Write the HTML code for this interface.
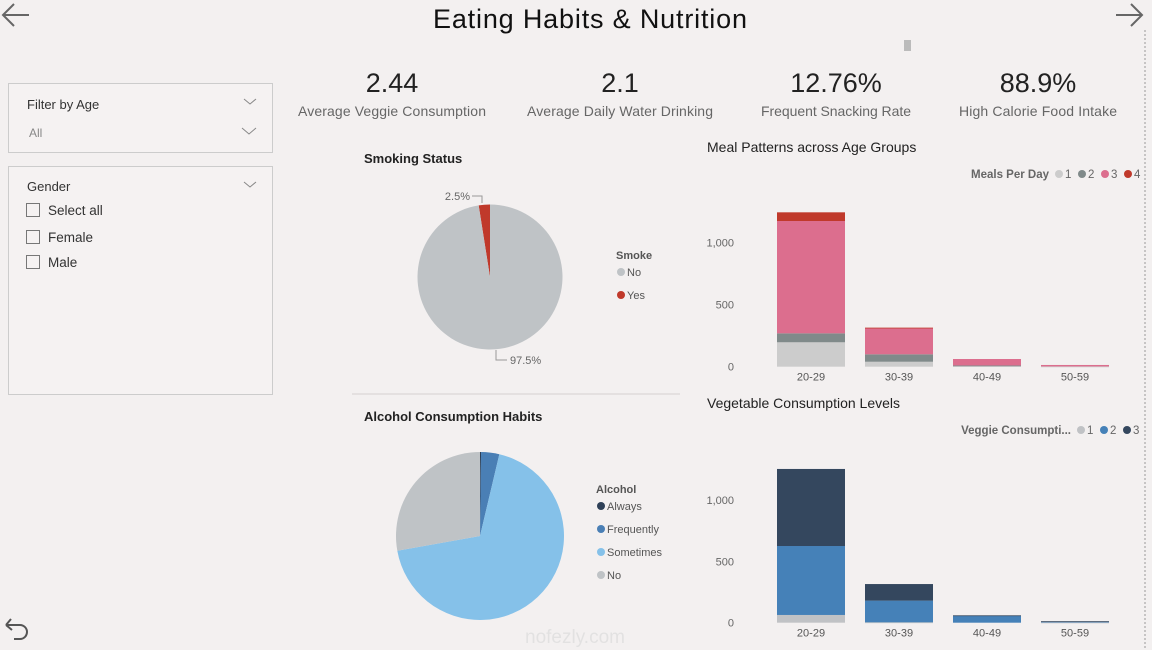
<!DOCTYPE html>
<html><head><meta charset="utf-8"><style>
html,body{margin:0;padding:0;background:#f3f0f0;}
svg{display:block;font-family:"Liberation Sans",sans-serif;}
</style></head><body>
<svg id="root" width="1152" height="650" viewBox="0 0 1152 650" xmlns="http://www.w3.org/2000/svg">
<rect width="1152" height="650" fill="#f3f0f0"/>
<g stroke="#666" stroke-width="2" fill="none"><path d="M29 15H4M14 4L3 15L14 26"/></g>
<g stroke="#666" stroke-width="2" fill="none"><path d="M1116 15H1141M1131 4L1142 15L1131 26"/></g>
<g stroke="#555" stroke-width="2" fill="none"><path d="M6 625L11 619M6 625L12 630M6 625H20a7 7 0 0 1 0 14H14"/></g>
<line x1="1145" y1="30" x2="1145" y2="650" stroke="#999" stroke-dasharray="2,2"/>
<text x="590" y="28" text-anchor="middle" font-size="27" fill="#111" textLength="314">Eating Habits &amp; Nutrition</text>
<rect x="904" y="40" width="7" height="11" fill="#bbb"/>

<g>
<rect x="8.5" y="83.5" width="264" height="69" fill="#f5f2f2" stroke="#ccc"/>
<text x="27" y="109" font-size="13" fill="#333">Filter by Age</text>
<text x="29" y="137" font-size="12" fill="#888">All</text>
<path d="M244 99l6 5l6-5M242 128l7 6l7-6" stroke="#888" fill="none"/>
</g>
<g>
<rect x="8.5" y="166.5" width="264" height="228" fill="#f5f2f2" stroke="#ccc"/>
<text x="27" y="191" font-size="13" fill="#333">Gender</text>
<path d="M244 182l6 5l6-5" stroke="#888" fill="none"/>
<rect x="26.5" y="203.5" width="13" height="13" fill="none" stroke="#777"/>
<text x="48" y="215" font-size="13.5" fill="#333">Select all</text>
<rect x="26.5" y="230.5" width="13" height="13" fill="none" stroke="#777"/>
<text x="48" y="242" font-size="13.5" fill="#333">Female</text>
<rect x="26.5" y="255.5" width="13" height="13" fill="none" stroke="#777"/>
<text x="48" y="267" font-size="13.5" fill="#333">Male</text>
</g>

<g><text x="392" y="92" text-anchor="middle" font-size="27" fill="#222">2.44</text><text x="392" y="116" text-anchor="middle" font-size="14" fill="#666" textLength="188">Average Veggie Consumption</text></g>
<g><text x="620" y="92" text-anchor="middle" font-size="27" fill="#222">2.1</text><text x="620" y="116" text-anchor="middle" font-size="14" fill="#666" textLength="186">Average Daily Water Drinking</text></g>
<g><text x="836" y="92" text-anchor="middle" font-size="27" fill="#222">12.76%</text><text x="836" y="116" text-anchor="middle" font-size="14" fill="#666" textLength="150">Frequent Snacking Rate</text></g>
<g><text x="1038" y="92" text-anchor="middle" font-size="27" fill="#222">88.9%</text><text x="1038" y="116" text-anchor="middle" font-size="14" fill="#666" textLength="158">High Calorie Food Intake</text></g>

<text x="364" y="163" font-size="13" font-weight="bold" fill="#222">Smoking Status</text>
<line x1="352" y1="394" x2="680" y2="394" stroke="#e4e0e0" stroke-width="2"/>
<text x="364" y="421" font-size="13" font-weight="bold" fill="#222">Alcohol Consumption Habits</text>
<text x="707" y="152" font-size="14" fill="#222">Meal Patterns across Age Groups</text>
<text x="707" y="408" font-size="14" fill="#222">Vegetable Consumption Levels</text>

<g id="smokePie"></g>
<g id="alcPie"></g>
<g id="mealChart"></g>
<g id="vegChart"></g>
<text x="575" y="643" text-anchor="middle" font-size="19" fill="#dcdcdc" opacity="0.7">nofezly.com</text>
</svg>
<script>
const NS='http://www.w3.org/2000/svg';
const smokeLabels=['No','Yes'];
const smokeValues=[97.5,2.5];
const smokeColors=['#bfc3c6','#c0392b'];
const alcLabels=['Always','Frequently','Sometimes','No'];
const alcValues=[0.2,3.5,68.5,27.8];
const alcColors=['#2e4057','#4a7fb5','#85c1e9','#bfc3c6'];
const ageGroups=['20-29','30-39','40-49','50-59'];
const meal1=[197,40,5,2];
const meal2=[72,60,5,0];
const meal3=[906,212,52,12];
const meal4=[70,3,0,0];
const mealColors=['#cccccc','#808a8a','#dc6e8e','#c0392b'];
const veg1=[63,3,0,2];
const veg2=[562,177,55,8];
const veg3=[628,135,5,2];
const vegColors=['#c0c2c5','#4581b8','#34475e'];
const yTicks=[0,500,1000];
const yTickLabels=['0','500','1,000'];

function mk(tag,attrs,parent){const e=document.createElementNS(NS,tag);for(const k in attrs)e.setAttribute(k,attrs[k]);parent.appendChild(e);return e;}

function pie(gid,cx,cy,r,vals,cols,reverse){
  const g=document.getElementById(gid);
  const tot=vals.reduce((a,b)=>a+b,0);
  let a=0;
  vals.forEach((v,i)=>{
    const a0=a/tot*2*Math.PI, a1=(a+v)/tot*2*Math.PI; a+=v;
    const s=reverse?-1:1;
    const x0=cx+s*r*Math.sin(a0),y0=cy-r*Math.cos(a0),x1=cx+s*r*Math.sin(a1),y1=cy-r*Math.cos(a1);
    const large=(a1-a0)>Math.PI?1:0;
    const p=mk('path',{d:`M${cx},${cy}L${x0},${y0}A${r},${r} 0 ${large} ${reverse?0:1} ${x1},${y1}Z`,fill:cols[i]},g);
    
    
  });
}
pie('smokePie',490,277,72.5,[smokeValues[1],smokeValues[0]],[smokeColors[1],smokeColors[0]],true);
pie('alcPie',480,536,84,alcValues,alcColors,false);

function legendV(g,x,y,title,labels,cols,step){
  const t=mk('text',{x:x,y:y,'font-size':11,'font-weight':'bold',fill:'#555'},g);t.textContent=title;
  
  labels.forEach((l,i)=>{
    const yy=y+17+i*step;
    const c=mk('circle',{cx:x+5,cy:yy-4,r:4,fill:cols[i]},g);
    
    const tt=mk('text',{x:x+11,y:yy,'font-size':11,fill:'#555'},g);tt.textContent=l;
    
  });
}
const sg=document.getElementById('smokePie');
legendV(sg,616,259,'Smoke',smokeLabels,smokeColors,23);
const l1=mk('text',{x:470,y:200,'font-size':11,fill:'#666','text-anchor':'end'},sg);l1.textContent=smokeValues[1]+'%';

mk('path',{d:'M472 196H482V203',stroke:'#999',fill:'none'},sg);
const l2=mk('text',{x:510,y:364,'font-size':11,fill:'#666'},sg);l2.textContent=smokeValues[0]+'%';

mk('path',{d:'M496 350V360H507',stroke:'#999',fill:'none'},sg);
legendV(document.getElementById('alcPie'),596,493,'Alcohol',alcLabels,alcColors,23);

function stacked(gid,zeroY,pxPer1000,series,cols,legTitle,legX,legY,legLabels){
  const g=document.getElementById(gid);
  const yScale=v=>zeroY-v*pxPer1000/1000;
  const xScale=i=>777+i*88;
  const bw=68;
  yTicks.forEach((t,i)=>{
    const tx=mk('text',{x:734,y:yScale(t)+4,'font-size':11,fill:'#666','text-anchor':'end'},g);tx.textContent=yTickLabels[i];
    
  });
  ageGroups.forEach((a,i)=>{
    let base=0;
    series.forEach((s,k)=>{
      const v=s[i]; if(v<=0) return;
      const r=mk('rect',{x:xScale(i),y:yScale(base+v),width:bw,height:Math.max(v*pxPer1000/1000,0.8),fill:cols[k]},g);
      
      
      base+=v;
    });
    const tx=mk('text',{x:xScale(i)+bw/2,y:zeroY+14,'font-size':11,fill:'#555','text-anchor':'middle'},g);tx.textContent=a;
    
  });
  let x=legX;
  const t=mk('text',{x:x,y:legY,'font-size':11.5,'font-weight':'bold',fill:'#666','text-anchor':'end'},g);t.textContent=legTitle;
  
  legLabels.forEach((l,i)=>{
    const cx=x+10+i*23;
    const c=mk('circle',{cx:cx,cy:legY-4,r:4,fill:cols[i]},g);
    
    const tt=mk('text',{x:cx+6,y:legY,'font-size':11.5,fill:'#666'},g);tt.textContent=l;
    
  });
}
stacked('mealChart',366.7,124,[meal1,meal2,meal3,meal4],mealColors,'Meals Per Day',1049,178,['1','2','3','4']);
stacked('vegChart',622.7,122.7,[veg1,veg2,veg3],vegColors,'Veggie Consumpti...',1071,434,['1','2','3']);
</script>
</body></html>
